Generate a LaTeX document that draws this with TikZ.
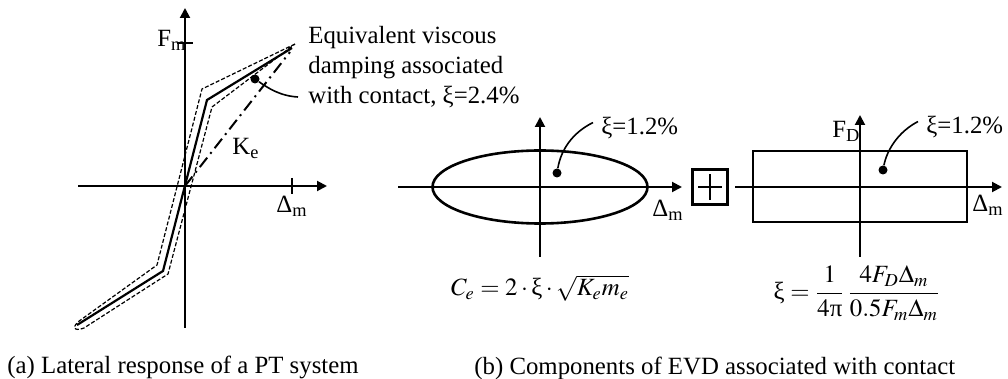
\documentclass[tikz,border=0pt]{standalone}
\usepackage{mathptmx}
\usepackage{fontspec}
\setmainfont{Liberation Serif}
\usetikzlibrary{arrows.meta}

\tikzset{
  ax/.style={line width=1pt, -{Triangle[length=5pt,width=5pt]}},
  spine/.style={line width=1.1pt},
  band/.style={line width=0.6pt, dash pattern=on 2pt off 1pt},
  secant/.style={line width=1pt, dash pattern=on 6pt off 2.5pt on 1pt off 2.5pt},
  outline/.style={line width=1.3pt},
  lbl/.style={inner sep=0pt, font=\fontsize{12.4}{15}\selectfont},
  blob/.style={circle, fill, inner sep=0pt, minimum size=4.5pt},
  leader/.style={line width=0.8pt}
}

\begin{document}
\begin{tikzpicture}[x=0.5pt, y=-0.5pt]
  \useasboundingbox (0,0) rectangle (1008,379);
  % (a) Lateral response
  \coordinate (oA) at (185,186);
  \draw[ax] (78,186) -- (327,186);
  \draw[ax] (185,328) -- (185,8);
  \draw[line width=1pt] (177,43) -- (193,43);
  \draw[line width=1pt] (292,178) -- (292,194);
  \node[lbl, anchor=base west] (Fm) at (157,47) {F\textsubscript{m}};
  \node[lbl, anchor=base west] (DmA) at (276,213) {Δ\textsubscript{m}};
  % Hysteresis band
  \draw[band] (295,44) -- (202,89) -- (157,265) -- (82,319)
    .. controls (70,327) and (74,332) .. (84,328) -- (168,274) -- (212,107) -- cycle;
  \draw[spine] (77,325) -- (163,271) -- (207,100) -- (292,48);
  % Secant stiffness
  \draw[secant] (oA) -- (290,52);
  \node[lbl, anchor=base west] (Ke) at (232,155) {K\textsubscript{e}};
  % Damping note
  \node[blob] (dotA) at (255,79) {};
  \node[lbl, anchor=west, align=left] (noteA) at (308,67)
    {Equivalent viscous\\damping associated\\with contact, ξ=2.4\%};
  \coordinate (tipA) at (298,97);
  \draw[leader] (dotA) .. controls (268,88) and (280,96) .. (tipA);

  % (b) Ellipse component
  \coordinate (oB) at (540,187);
  \draw[outline] (oB) ellipse [x radius=53.75pt, y radius=18.25pt];
  \draw[ax] (398,187) -- (682,187);
  \draw[ax] (540,257) -- (540,117);
  \node[blob] (dotB) at (557,173) {};
  \node[lbl, anchor=base west] (xiB) at (601,135) {ξ=1.2\%};
  \draw[leader] (dotB) .. controls (561,150) and (572,133) .. ([xshift=-4pt,yshift=3pt]xiB.west);
  \node[lbl, anchor=base west] (DmB) at (652,217) {Δ\textsubscript{m}};
  \node[lbl] (eqB) at (540,288) {$C_e = 2\cdot\mbox{ξ}\cdot\sqrt{K_e m_e}$};

  % Plus sign
  \node[draw, line width=1.2pt, minimum size=17.5pt, inner sep=0pt] (plus) at (710,187) {};
  \draw[line width=1.2pt] ([xshift=-6pt]plus.center) -- ([xshift=6pt]plus.center);
  \draw[line width=1.2pt] ([yshift=-6.5pt]plus.center) -- ([yshift=6.5pt]plus.center);

  % (b) Rectangle component
  \coordinate (oC) at (860,187);
  \draw[outline] (753,151) rectangle (967,222);
  \draw[ax] (735,187) -- (1002,187);
  \draw[ax] (860,257) -- (860,115);
  \node[lbl, anchor=base west] (FD) at (832,138) {F\textsubscript{D}};
  \node[blob] (dotC) at (883,170) {};
  \node[lbl, anchor=base west] (xiC) at (926,134) {ξ=1.2\%};
  \draw[leader] (dotC) .. controls (887,150) and (898,132) .. ([xshift=-4pt,yshift=3pt]xiC.west);
  \node[lbl, anchor=base west] (DmC) at (972,212) {Δ\textsubscript{m}};
  \node[lbl] (eqC) at (857,293)
    {$\displaystyle\mbox{ξ} = \frac{1}{4\mbox{π}}\,\frac{4F_D\Delta_m}{0.5F_m\Delta_m}$};

  % Captions
  \node[lbl, anchor=west] (capA) at (7,367) {(a) Lateral response of a PT system};
  \node[lbl, anchor=west] (capB) at (474,368) {(b) Components of EVD associated with contact};
\end{tikzpicture}
\end{document}
